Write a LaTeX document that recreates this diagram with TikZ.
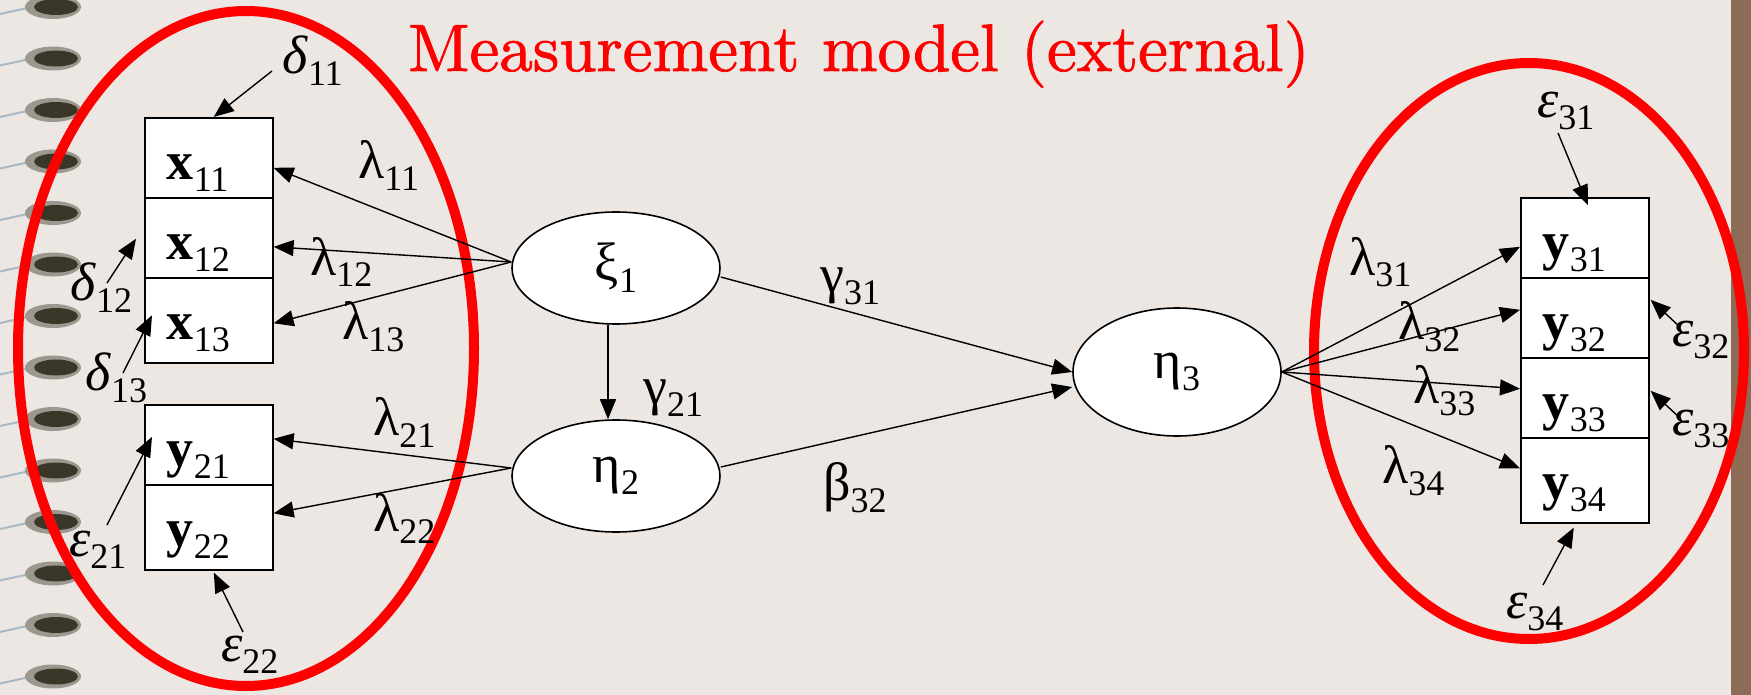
\documentclass[tikz,border=0pt]{standalone}
\usepackage{fontspec}
\newfontfamily\diafont{Liberation Serif}
\newfontfamily\titlefont{lmroman10-regular.otf}[FakeBold=1.2]
\usetikzlibrary{arrows.meta,positioning,calc,shapes.geometric}
\definecolor{bgcol}{HTML}{ECE7E3}
\definecolor{stripcol}{HTML}{8C6B57}
\definecolor{ringcol}{HTML}{3A3729}
\definecolor{wirecol}{HTML}{A9B9C6}
\newcommand{\dfont}{\diafont\fontsize{54}{60}\selectfont}
\newcommand{\ix}[1]{\raisebox{-12pt}{\fontsize{36}{40}\selectfont #1}}

\begin{document}
\begin{tikzpicture}[x=1pt, y=-1pt,
  obs/.style={draw, line width=1.6pt, fill=white, anchor=north west, text width=84pt, align=left, inner xsep=22pt, inner ysep=0pt, text height=62pt, text depth=18pt, font=\dfont},
  obslast/.style={obs, text depth=23pt},
  lat/.style={draw, ellipse, line width=1.6pt, fill=white, minimum width=208pt, minimum height=112pt, inner sep=0pt, font=\dfont},
  lbl/.style={anchor=base west, inner sep=0pt, font=\dfont},
  arr/.style={-{Triangle[length=20pt,width=16pt]}, line width=1.4pt},
  group/.style={draw=red, line width=10pt},
]
  \useasboundingbox (0,0) rectangle (1751,695);
  \fill[bgcol] (0,0) rectangle (1751,695);
  \fill[stripcol] (1731,0) rectangle (1751,695);

  % binding rings on the left edge
  \foreach \k in {0,...,13} {
    \draw[wirecol, line width=2pt] (0,{14+51.5*\k}) -- (32,{7+51.5*\k});
    \fill[ringcol!45!bgcol] (53,{7+51.5*\k}) ellipse [x radius=28pt, y radius=12pt];
    \fill[ringcol] (56,{7+51.5*\k}) ellipse [x radius=22pt, y radius=8pt];
  }

  % measurement groups
  \draw[group] (246,348.5) ellipse [x radius=228pt, y radius=337.5pt];
  \draw[group] (1529,351) ellipse [x radius=215pt, y radius=288pt];

  % observed variables
  \node[obs] (x11) at (144,117) {\textbf{x}\ix{11}};
  \node[obs] (x12) at (144,197) {\textbf{x}\ix{12}};
  \node[obslast] (x13) at (144,277) {\textbf{x}\ix{13}};
  \node[obs] (y21) at (144,404) {\textbf{y}\ix{21}};
  \node[obslast] (y22) at (144,484) {\textbf{y}\ix{22}};
  \node[obs] (y31) at (1520,197) {\textbf{y}\ix{31}};
  \node[obs] (y32) at (1520,277) {\textbf{y}\ix{32}};
  \node[obs] (y33) at (1520,357) {\textbf{y}\ix{33}};
  \node[obslast] (y34) at (1520,437) {\textbf{y}\ix{34}};

  % latent variables
  \node[lat] (xi1) at (616,268) {ξ\ix{1}};
  \node[lat] (eta2) at (616,476) {η\ix{2}};
  \node[lat, minimum height=128pt] (eta3) at (1177,372) {η\ix{3}};

  % loadings
  \coordinate (xiw) at ($(xi1.west)+(0,-6)$);
  \foreach \b/\dy in {x11/10, x12/9, x13/3}
    \draw[arr] (xiw) -- ($(\b.east)+(0,\dy)$);
  \coordinate (etaw) at ($(eta2.west)+(0,-8)$);
  \foreach \b/\dy in {y21/-6, y22/-14}
    \draw[arr] (etaw) -- ($(\b.east)+(0,\dy)$);
  \foreach \b/\dy in {y31/9, y32/-8, y33/-9, y34/-12}
    \draw[arr] (eta3.east) -- ($(\b.west)+(0,\dy)$);

  % structural paths
  \draw[arr] ([xshift=-8pt]xi1.south) -- ([xshift=-8pt]eta2.north);
  \draw[arr] ($(xi1.east)+(0,9)$) -- (eta3.west);
  \draw[arr] ($(eta2.east)+(0,-9)$) -- ($(eta3.west)+(0,15)$);

  % error terms
  \coordinate (d11s) at (272,71);
  \coordinate (d12s) at (107,283);
  \coordinate (d13s) at (123,373);
  \coordinate (e21s) at (107,525);
  \coordinate (e22s) at (243,632);
  \coordinate (e31s) at (1558,133);
  \coordinate (e32s) at (1680,327);
  \coordinate (e33s) at (1680,418);
  \coordinate (e34s) at (1543,585);
  \draw[arr] (d11s) -- ($(x11.north)+(5,0)$);
  \draw[arr] (d12s) -- ($(x12.west)+(-8,1)$);
  \draw[arr] (d13s) -- ($(x13.west)+(8,-5)$);
  \draw[arr] (e21s) -- ($(y21.west)+(8,-8)$);
  \draw[arr] (e22s) -- ($(y22.south)+(5,2)$);
  \draw[arr] (e31s) -- ($(y31.north)+(3,8)$);
  \draw[arr] (e32s) -- ($(y32.east)+(1,-18)$);
  \draw[arr] (e33s) -- ($(y33.east)+(1,-7)$);
  \draw[arr] (e34s) -- ($(y34.south)+(-11,4)$);

  % labels
  \node[lbl] (l11) at (358,179) {λ\ix{11}};
  \node[lbl] (l12) at (310,275) {λ\ix{12}};
  \node[lbl] (l13) at (342,339) {λ\ix{13}};
  \node[lbl] (l21) at (373,435) {λ\ix{21}};
  \node[lbl] (l22) at (373,531) {λ\ix{22}};
  \node[lbl] (l31) at (1349,275) {λ\ix{31}};
  \node[lbl] (l32) at (1398,339) {λ\ix{32}};
  \node[lbl] (l33) at (1413,403) {λ\ix{33}};
  \node[lbl] (l34) at (1382,483) {λ\ix{34}};
  \node[lbl] (g31) at (820,292) {γ\ix{31}};
  \node[lbl] (g21) at (643,404) {γ\ix{21}};
  \node[lbl] (b32) at (823,500) {β\ix{32}};
  \node[lbl] (d11) at (282,74) {\textit{δ}\ix{11}};
  \node[lbl] (d12) at (70,300) {\textit{δ}\ix{12}};
  \node[lbl] (d13) at (85,390) {\textit{δ}\ix{13}};
  \node[lbl] (e21) at (69,556) {\textit{ε}\ix{21}};
  \node[lbl] (e22) at (221,661) {\textit{ε}\ix{22}};
  \node[lbl] (e31) at (1537,118) {\textit{ε}\ix{31}};
  \node[lbl] (e32) at (1672,346) {\textit{ε}\ix{32}};
  \node[lbl] (e33) at (1672,435) {\textit{ε}\ix{33}};
  \node[lbl] (e34) at (1506,618) {\textit{ε}\ix{34}};

  \node[anchor=base west, inner sep=0pt, text=red, font=\titlefont\fontsize{67}{70}\selectfont] (title) at (408,71) {Measurement model (external)};
\end{tikzpicture}
\end{document}
